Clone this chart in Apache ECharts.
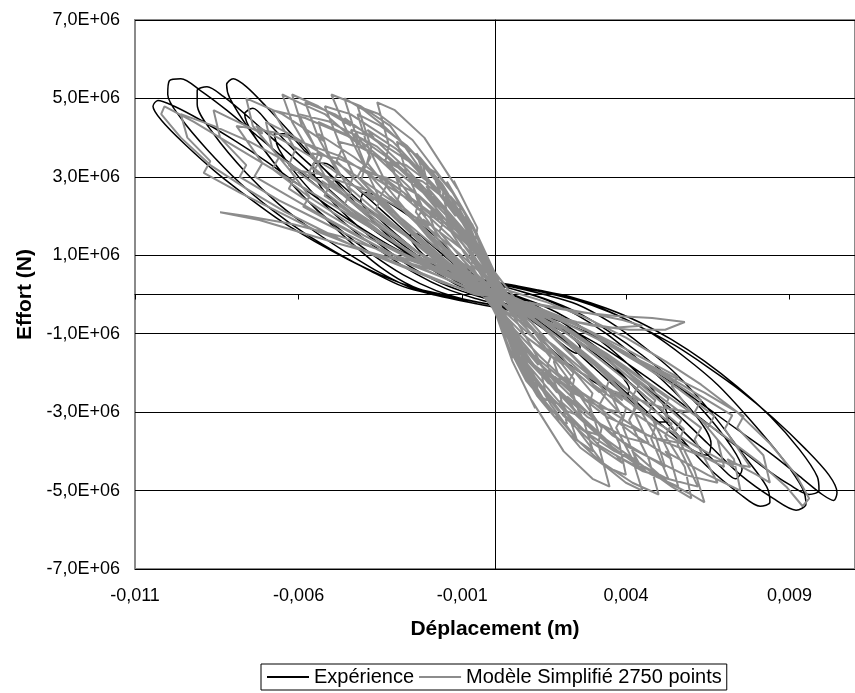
<!DOCTYPE html>
<html>
<head>
<meta charset="utf-8">
<script src="https://cdn.jsdelivr.net/npm/echarts@6/dist/echarts.min.js"></script>
<style>
html,body{margin:0;padding:0;background:#fff;}
#chart{width:855px;height:693px;}
</style>
</head>
<body>
<div id="chart"></div>
<script>
// ---- axis ticks ----
const xTicks = [-0.011, -0.006, -0.001, 0.004, 0.009];
const yTicks = [-7e6, -5e6, -3e6, -1e6, 1e6, 3e6, 5e6, 7e6];

// ---- Expérience (black) : cycles, [m, N] ----
const expCycle0 = [[0,0.1e6],[-0.5e-3,0.3e6],[-1.0e-3,0.6e6],[-1.5e-3,0.95e6],[-2.0e-3,1.3e6],[-2.4e-3,1.55e6],[-2.6e-3,1.5e6],[-2.4e-3,1.2e6],[-1.9e-3,0.8e6],[-1.4e-3,0.45e6],[-0.9e-3,0.2e6],[-0.4e-3,0],[0.1e-3,-0.15e6],[0.6e-3,-0.35e6],[1.1e-3,-0.65e6],[1.6e-3,-0.95e6],[2.1e-3,-1.3e6],[2.5e-3,-1.5e6],[2.6e-3,-1.35e6],[2.3e-3,-1.05e6],[1.8e-3,-0.7e6],[1.3e-3,-0.4e6],[0.8e-3,-0.15e6],[0.3e-3,0.05e6]];
const expCycle1 = [[-0.4e-3,0.31e6],[-1.0e-3,0.78e6],[-1.6e-3,1.3e6],[-2.2e-3,1.74e6],[-2.8e-3,2.1e6],[-3.3e-3,2.37e6],[-3.7e-3,2.55e6],[-4.0e-3,2.6e6],[-4.1e-3,2.39e6],[-3.96e-3,2.18e6],[-3.6e-3,1.77e6],[-3.0e-3,1.3e6],[-2.4e-3,0.91e6],[-1.8e-3,0.57e6],[-1.2e-3,0.26e6],[-0.6e-3,0.05e6],[0,-0.16e6],[0.4e-3,-0.31e6],[1.0e-3,-0.78e6],[1.6e-3,-1.3e6],[2.2e-3,-1.74e6],[2.8e-3,-2.1e6],[3.3e-3,-2.37e6],[3.7e-3,-2.55e6],[4.0e-3,-2.6e6],[4.1e-3,-2.39e6],[3.96e-3,-2.18e6],[3.6e-3,-1.77e6],[3.0e-3,-1.3e6],[2.4e-3,-0.91e6],[1.8e-3,-0.57e6],[1.2e-3,-0.26e6],[0.6e-3,-0.05e6],[0,0.16e6]];
const expCycle2 = [[-0.8e-3,0.45e6],[-1.6e-3,0.8e6],[-2.4e-3,1.35e6],[-3.2e-3,1.95e6],[-4.0e-3,2.55e6],[-4.7e-3,3.05e6],[-5.2e-3,3.35e6],[-5.55e-3,3.35e6],[-5.5e-3,3.0e6],[-5.0e-3,2.4e6],[-4.2e-3,1.75e6],[-3.4e-3,1.2e6],[-2.6e-3,0.72e6],[-1.8e-3,0.35e6],[-1.0e-3,0.08e6],[-0.2e-3,-0.12e6],[0.6e-3,-0.35e6],[1.4e-3,-0.72e6],[2.2e-3,-1.25e6],[3.0e-3,-1.85e6],[3.8e-3,-2.45e6],[4.5e-3,-2.95e6],[5.0e-3,-3.25e6],[5.3e-3,-3.25e6],[5.2e-3,-2.9e6],[4.7e-3,-2.3e6],[3.9e-3,-1.65e6],[3.1e-3,-1.1e6],[2.3e-3,-0.65e6],[1.5e-3,-0.3e6],[0.7e-3,-0.05e6],[-0.1e-3,0.18e6]];
const expCycle3 = [[-0.9e-3,0.4e6],[-1.9e-3,0.8e6],[-2.9e-3,1.45e6],[-3.9e-3,2.2e6],[-4.9e-3,2.95e6],[-5.8e-3,3.65e6],[-6.4e-3,4.1e6],[-6.75e-3,4.1e6],[-6.6e-3,3.7e6],[-6.0e-3,3.0e6],[-5.1e-3,2.2e6],[-4.2e-3,1.55e6],[-3.3e-3,1.0e6],[-2.4e-3,0.52e6],[-1.5e-3,0.15e6],[-0.6e-3,-0.1e6],[0.3e-3,-0.3e6],[1.2e-3,-0.65e6],[2.2e-3,-1.2e6],[3.2e-3,-1.9e6],[4.2e-3,-2.65e6],[5.2e-3,-3.4e6],[6.0e-3,-3.95e6],[6.5e-3,-4.1e6],[6.6e-3,-3.8e6],[6.1e-3,-3.05e6],[5.2e-3,-2.25e6],[4.3e-3,-1.6e6],[3.4e-3,-1.0e6],[2.5e-3,-0.52e6],[1.6e-3,-0.15e6],[0.7e-3,0.1e6],[-0.2e-3,0.3e6]];
const expCycle4 = [[-1.1e-3,0.5e6],[-2.1e-3,0.85e6],[-3.1e-3,1.45e6],[-4.1e-3,2.15e6],[-5.1e-3,2.9e6],[-6.1e-3,3.65e6],[-6.9e-3,4.35e6],[-7.4e-3,4.75e6],[-7.65e-3,4.6e6],[-7.4e-3,4.1e6],[-6.7e-3,3.3e6],[-5.8e-3,2.45e6],[-4.8e-3,1.7e6],[-3.8e-3,1.05e6],[-2.8e-3,0.5e6],[-1.8e-3,0.1e6],[-0.8e-3,-0.15e6],[0.2e-3,-0.32e6],[1.2e-3,-0.6e6],[2.2e-3,-1.0e6],[3.2e-3,-1.6e6],[4.2e-3,-2.3e6],[5.2e-3,-3.05e6],[6.2e-3,-3.85e6],[6.9e-3,-4.4e6],[7.35e-3,-4.7e6],[7.55e-3,-4.45e6],[7.2e-3,-3.85e6],[6.4e-3,-3.0e6],[5.5e-3,-2.25e6],[4.5e-3,-1.55e6],[3.5e-3,-0.95e6],[2.5e-3,-0.45e6],[1.5e-3,-0.1e6],[0.5e-3,0.15e6],[-0.5e-3,0.35e6]];
const expCycle5 = [[-1.0e-3,0.45e6],[-2.0e-3,0.75e6],[-3.0e-3,1.3e6],[-4.0e-3,2.1e6],[-5.0e-3,3.0e6],[-6.0e-3,3.9e6],[-7.0e-3,4.8e6],[-7.6e-3,5.3e6],[-8.0e-3,5.5e6],[-8.2e-3,5.35e6],[-8.1e-3,5.0e6],[-7.5e-3,4.2e6],[-6.5e-3,3.1e6],[-5.5e-3,2.2e6],[-4.5e-3,1.4e6],[-3.5e-3,0.7e6],[-2.5e-3,0.2e6],[-1.5e-3,-0.05e6],[-0.5e-3,-0.2e6],[0.5e-3,-0.35e6],[1.5e-3,-0.6e6],[2.5e-3,-1.0e6],[3.5e-3,-1.7e6],[4.5e-3,-2.6e6],[5.5e-3,-3.5e6],[6.5e-3,-4.4e6],[7.5e-3,-5.1e6],[8.1e-3,-5.4e6],[8.4e-3,-5.3e6],[8.3e-3,-4.9e6],[7.6e-3,-4.1e6],[6.6e-3,-3.0e6],[5.5e-3,-2.0e6],[4.5e-3,-1.3e6],[3.5e-3,-0.7e6],[2.5e-3,-0.25e6],[1.5e-3,0],[0.5e-3,0.2e6],[-0.5e-3,0.35e6]];
const expCycle6 = [[-1.5e-3,0.6e6],[-2.5e-3,0.95e6],[-3.5e-3,1.55e6],[-4.5e-3,2.25e6],[-5.5e-3,3.0e6],[-6.5e-3,3.75e6],[-7.5e-3,4.5e6],[-8.3e-3,5.05e6],[-8.8e-3,5.3e6],[-9.1e-3,5.2e6],[-9.1e-3,4.85e6],[-8.6e-3,4.1e6],[-7.6e-3,3.1e6],[-6.6e-3,2.3e6],[-5.5e-3,1.6e6],[-4.5e-3,1.05e6],[-3.5e-3,0.55e6],[-2.5e-3,0.15e6],[-1.5e-3,-0.05e6],[-0.5e-3,-0.2e6],[0.5e-3,-0.38e6],[1.5e-3,-0.6e6],[2.5e-3,-1.0e6],[3.5e-3,-1.6e6],[4.5e-3,-2.3e6],[5.5e-3,-3.0e6],[6.5e-3,-3.8e6],[7.5e-3,-4.6e6],[8.5e-3,-5.2e6],[9.2e-3,-5.5e6],[9.5e-3,-5.35e6],[9.4e-3,-4.95e6],[8.8e-3,-4.2e6],[7.8e-3,-3.2e6],[6.8e-3,-2.3e6],[5.8e-3,-1.6e6],[4.8e-3,-1.0e6],[3.8e-3,-0.55e6],[2.8e-3,-0.2e6],[1.8e-3,0.02e6],[0.8e-3,0.2e6],[-0.2e-3,0.35e6]];
const expCycle7 = [[-1.2e-3,0.55e6],[-2.2e-3,0.85e6],[-3.2e-3,1.35e6],[-4.2e-3,1.95e6],[-5.2e-3,2.6e6],[-6.2e-3,3.3e6],[-7.2e-3,4.0e6],[-8.2e-3,4.7e6],[-9.0e-3,5.2e6],[-9.6e-3,5.5e6],[-9.95e-3,5.45e6],[-10.0e-3,5.1e6],[-9.6e-3,4.5e6],[-8.8e-3,3.7e6],[-7.8e-3,2.85e6],[-6.8e-3,2.15e6],[-5.8e-3,1.55e6],[-4.8e-3,1.05e6],[-3.8e-3,0.6e6],[-2.8e-3,0.2e6],[-1.8e-3,-0.02e6],[-0.8e-3,-0.2e6],[0.2e-3,-0.36e6],[1.2e-3,-0.55e6],[2.2e-3,-0.85e6],[3.2e-3,-1.3e6],[4.2e-3,-1.85e6],[5.2e-3,-2.45e6],[6.2e-3,-3.1e6],[7.2e-3,-3.75e6],[8.2e-3,-4.4e6],[9.0e-3,-4.85e6],[9.6e-3,-5.1e6],[9.9e-3,-5.0e6],[9.85e-3,-4.65e6],[9.3e-3,-3.95e6],[8.4e-3,-3.1e6],[7.4e-3,-2.35e6],[6.4e-3,-1.7e6],[5.4e-3,-1.15e6],[4.4e-3,-0.7e6],[3.4e-3,-0.35e6],[2.4e-3,-0.08e6],[1.4e-3,0.1e6],[0.4e-3,0.25e6]];
const expCycle8 = [[-1.0e-3,0.5e6],[-2.0e-3,0.75e6],[-3.0e-3,1.15e6],[-4.0e-3,1.65e6],[-5.0e-3,2.2e6],[-6.0e-3,2.8e6],[-7.0e-3,3.4e6],[-8.0e-3,3.95e6],[-9.0e-3,4.45e6],[-9.8e-3,4.8e6],[-10.3e-3,4.95e6],[-10.45e-3,4.8e6],[-10.2e-3,4.45e6],[-9.5e-3,3.85e6],[-8.5e-3,3.1e6],[-7.5e-3,2.45e6],[-6.5e-3,1.85e6],[-5.5e-3,1.35e6],[-4.5e-3,0.9e6],[-3.5e-3,0.5e6],[-2.5e-3,0.18e6],[-1.5e-3,-0.02e6],[-0.5e-3,-0.2e6],[0.5e-3,-0.36e6],[1.5e-3,-0.55e6],[2.5e-3,-0.85e6],[3.5e-3,-1.25e6],[4.5e-3,-1.75e6],[5.5e-3,-2.3e6],[6.5e-3,-2.9e6],[7.5e-3,-3.5e6],[8.5e-3,-4.1e6],[9.4e-3,-4.7e6],[10.0e-3,-5.1e6],[10.35e-3,-5.25e6],[10.45e-3,-5.05e6],[10.2e-3,-4.6e6],[9.5e-3,-3.95e6],[8.5e-3,-3.15e6],[7.5e-3,-2.45e6],[6.5e-3,-1.85e6],[5.5e-3,-1.3e6],[4.5e-3,-0.85e6],[3.5e-3,-0.45e6],[2.5e-3,-0.15e6],[1.5e-3,0.05e6],[0.5e-3,0.22e6],[-0.5e-3,0.38e6]];

// ---- Modèle Simplifié 2750 points (grey) : excursions, [m, N] ----
const modUL1 = [[0.1e-3,0.1e6],[-0.4e-3,0.9e6],[-0.9e-3,1.8e6],[-0.7e-3,1.4e6],[-1.6e-3,2.7e6],[-2.4e-3,3.6e6],[-2.2e-3,3.1e6],[-3.2e-3,4.3e6],[-4.1e-3,4.8e6],[-5.0e-3,5.1e6],[-4.6e-3,4.3e6],[-4.0e-3,3.3e6],[-4.2e-3,3.0e6],[-3.2e-3,2.1e6],[-2.2e-3,1.3e6],[-1.2e-3,0.6e6],[-0.3e-3,0.1e6]];
const modLR1 = [[-0.1e-3,-0.1e6],[0.4e-3,-1.0e6],[0.9e-3,-1.9e6],[0.8e-3,-1.5e6],[1.7e-3,-2.8e6],[2.5e-3,-3.7e6],[2.3e-3,-3.2e6],[3.3e-3,-4.3e6],[4.2e-3,-4.8e6],[5.0e-3,-5.1e6],[4.7e-3,-4.2e6],[4.1e-3,-3.2e6],[4.3e-3,-2.9e6],[3.3e-3,-2.0e6],[2.3e-3,-1.2e6],[1.3e-3,-0.6e6],[0.3e-3,-0.1e6]];
const modUL2 = [[-0.3e-3,0.7e6],[-0.8e-3,1.4e6],[-1.5e-3,2.0e6],[-1.3e-3,1.7e6],[-2.4e-3,2.8e6],[-3.3e-3,3.5e6],[-4.3e-3,4.1e6],[-4.1e-3,3.8e6],[-5.2e-3,4.6e6],[-6.0e-3,4.9e6],[-6.5e-3,5.1e6],[-6.2e-3,4.4e6],[-5.5e-3,3.4e6],[-5.7e-3,3.1e6],[-4.6e-3,2.3e6],[-3.5e-3,1.6e6],[-2.3e-3,0.9e6],[-1.1e-3,0.4e6],[-0.2e-3,0]];
const modLR2 = [[0.3e-3,-0.7e6],[0.9e-3,-1.5e6],[1.6e-3,-2.2e6],[1.4e-3,-1.9e6],[2.5e-3,-3.0e6],[3.4e-3,-3.7e6],[4.4e-3,-4.3e6],[4.2e-3,-4.0e6],[5.3e-3,-4.8e6],[6.0e-3,-5.1e6],[6.4e-3,-5.3e6],[6.1e-3,-4.5e6],[5.5e-3,-3.5e6],[5.7e-3,-3.2e6],[4.6e-3,-2.4e6],[3.5e-3,-1.6e6],[2.3e-3,-0.9e6],[1.1e-3,-0.4e6],[0.2e-3,0]];
const modUL3 = [[-0.5e-3,1.2e6],[-1.1e-3,2.2e6],[-0.9e-3,1.9e6],[-1.8e-3,3.0e6],[-2.7e-3,3.8e6],[-3.5e-3,4.3e6],[-4.2e-3,4.6e6],[-3.9e-3,3.8e6],[-3.3e-3,2.8e6],[-3.5e-3,2.5e6],[-2.5e-3,1.6e6],[-1.4e-3,0.8e6],[-0.4e-3,0.2e6]];
const modLR3 = [[0.5e-3,-1.3e6],[1.1e-3,-2.3e6],[1.0e-3,-2.0e6],[1.8e-3,-3.1e6],[2.6e-3,-3.9e6],[3.4e-3,-4.4e6],[4.0e-3,-4.6e6],[3.8e-3,-3.8e6],[3.2e-3,-2.8e6],[3.4e-3,-2.5e6],[2.4e-3,-1.6e6],[1.4e-3,-0.8e6],[0.4e-3,-0.2e6]];
const modUL4 = [[-0.6e-3,0.8e6],[-1.4e-3,1.5e6],[-2.3e-3,2.2e6],[-2.1e-3,2.0e6],[-3.2e-3,2.8e6],[-4.3e-3,3.5e6],[-5.4e-3,4.1e6],[-5.2e-3,3.9e6],[-6.5e-3,4.6e6],[-7.6e-3,5.0e6],[-7.4e-3,4.3e6],[-6.6e-3,3.5e6],[-6.8e-3,3.2e6],[-5.7e-3,2.5e6],[-4.6e-3,1.9e6],[-3.4e-3,1.3e6],[-2.2e-3,0.8e6],[-1.0e-3,0.3e6],[0,-0.1e6]];
const modLR4 = [[0.6e-3,-0.9e6],[1.4e-3,-1.6e6],[2.3e-3,-2.3e6],[2.1e-3,-2.1e6],[3.2e-3,-2.9e6],[4.3e-3,-3.6e6],[5.4e-3,-4.2e6],[5.2e-3,-4.0e6],[6.5e-3,-4.6e6],[7.5e-3,-5.0e6],[7.3e-3,-4.2e6],[6.5e-3,-3.4e6],[6.7e-3,-3.1e6],[5.6e-3,-2.4e6],[4.5e-3,-1.8e6],[3.3e-3,-1.2e6],[2.1e-3,-0.7e6],[0.9e-3,-0.3e6],[0,0.1e6]];
const modUL5 = [[-0.2e-3,0.6e6],[-0.7e-3,1.5e6],[-1.3e-3,2.3e6],[-1.2e-3,2.0e6],[-2.1e-3,3.0e6],[-3.0e-3,3.7e6],[-3.9e-3,4.2e6],[-3.7e-3,4.0e6],[-4.9e-3,4.6e6],[-5.8e-3,4.9e6],[-5.4e-3,4.0e6],[-4.8e-3,3.1e6],[-5.0e-3,2.8e6],[-3.9e-3,2.0e6],[-2.8e-3,1.3e6],[-1.7e-3,0.7e6],[-0.6e-3,0.2e6]];
const modLR5 = [[0.2e-3,-0.6e6],[0.7e-3,-1.6e6],[1.3e-3,-2.4e6],[1.2e-3,-2.1e6],[2.1e-3,-3.1e6],[3.0e-3,-3.8e6],[3.9e-3,-4.3e6],[3.7e-3,-4.1e6],[4.8e-3,-4.6e6],[5.6e-3,-4.9e6],[5.3e-3,-4.0e6],[4.7e-3,-3.0e6],[4.9e-3,-2.7e6],[3.8e-3,-1.9e6],[2.7e-3,-1.2e6],[1.6e-3,-0.6e6],[0.5e-3,-0.2e6]];
const modUL6 = [[-0.4e-3,1.0e6],[-0.9e-3,2.0e6],[-0.8e-3,1.7e6],[-1.6e-3,2.8e6],[-2.3e-3,3.5e6],[-3.0e-3,3.9e6],[-2.7e-3,3.1e6],[-2.2e-3,2.2e6],[-2.4e-3,1.9e6],[-1.6e-3,1.2e6],[-0.7e-3,0.5e6],[0.1e-3,0]];
const modLR6 = [[0.4e-3,-1.1e6],[0.9e-3,-2.1e6],[0.8e-3,-1.8e6],[1.6e-3,-2.9e6],[2.3e-3,-3.6e6],[3.0e-3,-4.0e6],[2.7e-3,-3.2e6],[2.2e-3,-2.3e6],[2.4e-3,-2.0e6],[1.6e-3,-1.3e6],[0.7e-3,-0.5e6],[-0.1e-3,0]];
const modUL7 = [[-0.8e-3,0.7e6],[-1.8e-3,1.2e6],[-2.8e-3,1.9e6],[-3.9e-3,2.6e6],[-3.7e-3,2.4e6],[-5.0e-3,3.2e6],[-6.2e-3,3.8e6],[-7.3e-3,4.3e6],[-7.1e-3,4.1e6],[-8.1e-3,4.5e6],[-8.6e-3,4.7e6],[-8.4e-3,4.0e6],[-7.6e-3,3.3e6],[-7.8e-3,3.0e6],[-6.6e-3,2.4e6],[-5.4e-3,1.9e6],[-4.2e-3,1.4e6],[-3.0e-3,0.9e6],[-1.8e-3,0.5e6],[-0.6e-3,0.1e6]];
const modLR7 = [[0.8e-3,-0.7e6],[1.8e-3,-1.3e6],[2.8e-3,-2.0e6],[3.9e-3,-2.7e6],[3.7e-3,-2.5e6],[5.0e-3,-3.3e6],[6.2e-3,-3.9e6],[7.3e-3,-4.4e6],[7.1e-3,-4.2e6],[8.0e-3,-4.6e6],[8.4e-3,-4.8e6],[8.2e-3,-4.1e6],[7.4e-3,-3.4e6],[7.6e-3,-3.1e6],[6.4e-3,-2.5e6],[5.2e-3,-2.0e6],[4.0e-3,-1.5e6],[2.8e-3,-1.0e6],[1.6e-3,-0.5e6],[0.5e-3,-0.1e6]];
const modUL8 = [[-0.3e-3,0.5e6],[-1.0e-3,1.3e6],[-1.8e-3,2.1e6],[-1.6e-3,1.9e6],[-2.7e-3,2.8e6],[-3.6e-3,3.5e6],[-4.6e-3,4.1e6],[-5.4e-3,4.4e6],[-5.1e-3,3.6e6],[-4.4e-3,2.6e6],[-4.6e-3,2.3e6],[-3.5e-3,1.7e6],[-2.4e-3,1.1e6],[-1.3e-3,0.6e6],[-0.3e-3,0.1e6]];
const modLR8 = [[0.3e-3,-0.6e6],[1.0e-3,-1.4e6],[1.8e-3,-2.2e6],[1.6e-3,-2.0e6],[2.7e-3,-2.9e6],[3.6e-3,-3.6e6],[4.6e-3,-4.1e6],[5.2e-3,-4.4e6],[4.9e-3,-3.6e6],[4.2e-3,-2.6e6],[4.4e-3,-2.3e6],[3.3e-3,-1.6e6],[2.2e-3,-1.0e6],[1.2e-3,-0.5e6],[0.2e-3,-0.1e6]];
const modUL9 = [[-1.0e-3,0.6e6],[-2.0e-3,1.1e6],[-3.1e-3,1.7e6],[-4.2e-3,2.3e6],[-5.3e-3,2.9e6],[-5.1e-3,2.7e6],[-6.4e-3,3.4e6],[-7.5e-3,3.9e6],[-8.6e-3,4.3e6],[-9.6e-3,4.6e6],[-9.4e-3,4.0e6],[-8.7e-3,3.4e6],[-8.9e-3,3.1e6],[-7.8e-3,2.6e6],[-6.6e-3,2.1e6],[-5.4e-3,1.6e6],[-4.2e-3,1.2e6],[-3.0e-3,0.8e6],[-1.8e-3,0.4e6],[-0.6e-3,0]];
const modLR9 = [[0.5e-3,-0.1e6],[1.5e-3,-0.3e6],[2.6e-3,-0.45e6],[3.7e-3,-0.55e6],[4.8e-3,-0.6e6],[5.8e-3,-0.7e6],[5.2e-3,-0.9e6],[4.1e-3,-0.9e6],[3.0e-3,-0.8e6],[1.9e-3,-0.6e6],[0.8e-3,-0.3e6]];
const modUL10 = [[-0.5e-3,1.1e6],[-1.0e-3,2.0e6],[-1.7e-3,2.9e6],[-1.5e-3,2.6e6],[-2.5e-3,3.6e6],[-3.4e-3,4.3e6],[-4.0e-3,4.7e6],[-4.6e-3,5.0e6],[-4.3e-3,4.2e6],[-3.8e-3,3.5e6],[-4.0e-3,3.2e6],[-3.0e-3,2.3e6],[-2.0e-3,1.5e6],[-1.0e-3,0.8e6],[-0.1e-3,0.2e6]];
const modLR10 = [[0.5e-3,-1.2e6],[1.0e-3,-2.1e6],[1.7e-3,-3.0e6],[1.5e-3,-2.7e6],[2.5e-3,-3.7e6],[3.4e-3,-4.4e6],[4.0e-3,-4.8e6],[4.5e-3,-5.0e6],[4.2e-3,-4.2e6],[3.7e-3,-3.4e6],[3.9e-3,-3.1e6],[2.9e-3,-2.2e6],[1.9e-3,-1.4e6],[0.9e-3,-0.7e6],[0,-0.1e6]];
const modUL11 = [[-0.5e-3,0.6e6],[-1.3e-3,1.2e6],[-2.2e-3,1.8e6],[-3.2e-3,2.5e6],[-3.0e-3,2.3e6],[-4.2e-3,3.0e6],[-5.3e-3,3.6e6],[-6.3e-3,4.1e6],[-7.0e-3,4.4e6],[-6.8e-3,3.7e6],[-6.1e-3,3.0e6],[-6.3e-3,2.7e6],[-5.2e-3,2.1e6],[-4.0e-3,1.5e6],[-2.8e-3,1.0e6],[-1.6e-3,0.5e6],[-0.4e-3,0.1e6]];
const modLR11 = [[0.5e-3,-0.6e6],[1.3e-3,-1.2e6],[2.2e-3,-1.8e6],[3.2e-3,-2.5e6],[3.0e-3,-2.3e6],[4.2e-3,-3.0e6],[5.3e-3,-3.6e6],[6.3e-3,-4.1e6],[7.0e-3,-4.4e6],[6.8e-3,-3.7e6],[6.1e-3,-3.0e6],[6.3e-3,-2.7e6],[5.2e-3,-2.1e6],[4.0e-3,-1.5e6],[2.8e-3,-1.0e6],[1.6e-3,-0.5e6],[0.4e-3,-0.1e6]];
const modUL12 = [[-0.3e-3,0.9e6],[-0.7e-3,1.8e6],[-0.6e-3,1.6e6],[-1.3e-3,2.6e6],[-1.8e-3,3.1e6],[-2.2e-3,3.3e6],[-2.0e-3,2.6e6],[-1.6e-3,1.8e6],[-1.7e-3,1.6e6],[-1.0e-3,0.9e6],[-0.3e-3,0.3e6]];
const modLR12 = [[0.3e-3,-0.9e6],[0.7e-3,-1.8e6],[0.6e-3,-1.6e6],[1.3e-3,-2.6e6],[1.8e-3,-3.1e6],[2.2e-3,-3.3e6],[2.0e-3,-2.6e6],[1.6e-3,-1.8e6],[1.7e-3,-1.6e6],[1.0e-3,-0.9e6],[0.3e-3,-0.3e6]];
const modUL13 = [[-0.4e-3,0.8e6],[-1.1e-3,1.7e6],[-1.9e-3,2.5e6],[-1.7e-3,2.3e6],[-2.7e-3,3.2e6],[-3.6e-3,3.9e6],[-4.6e-3,4.5e6],[-4.4e-3,4.3e6],[-5.4e-3,4.8e6],[-6.2e-3,5.1e6],[-5.9e-3,4.3e6],[-5.3e-3,3.5e6],[-5.5e-3,3.2e6],[-4.4e-3,2.5e6],[-3.2e-3,1.8e6],[-2.1e-3,1.1e6],[-1.0e-3,0.5e6],[0,0.1e6]];
const modLR13 = [[0.4e-3,-0.8e6],[1.1e-3,-1.7e6],[1.9e-3,-2.5e6],[1.7e-3,-2.3e6],[2.7e-3,-3.2e6],[3.6e-3,-3.9e6],[4.6e-3,-4.5e6],[4.4e-3,-4.3e6],[5.4e-3,-4.9e6],[6.0e-3,-5.2e6],[5.8e-3,-4.4e6],[5.2e-3,-3.6e6],[5.4e-3,-3.3e6],[4.3e-3,-2.6e6],[3.2e-3,-1.9e6],[2.1e-3,-1.2e6],[1.0e-3,-0.5e6],[0,0]];
const modUL14 = [[-1.0e-3,0.5e6],[-2.2e-3,0.9e6],[-3.4e-3,1.5e6],[-4.6e-3,2.1e6],[-5.8e-3,2.7e6],[-7.0e-3,3.3e6],[-8.2e-3,3.9e6],[-9.2e-3,4.4e6],[-10.1e-3,4.8e6],[-10.2e-3,4.6e6],[-9.6e-3,4.0e6],[-8.7e-3,3.3e6],[-7.6e-3,2.7e6],[-6.4e-3,2.1e6],[-5.2e-3,1.6e6],[-4.0e-3,1.1e6],[-2.8e-3,0.7e6],[-1.6e-3,0.3e6],[-0.4e-3,0]];
const modLR14 = [[1.0e-3,-0.5e6],[2.2e-3,-0.9e6],[3.4e-3,-1.5e6],[4.6e-3,-2.2e6],[5.8e-3,-2.9e6],[7.0e-3,-3.6e6],[8.1e-3,-4.3e6],[8.9e-3,-4.9e6],[9.4e-3,-5.4e6],[9.6e-3,-5.2e6],[9.2e-3,-4.6e6],[8.4e-3,-3.8e6],[7.4e-3,-3.0e6],[6.3e-3,-2.3e6],[5.2e-3,-1.7e6],[4.0e-3,-1.1e6],[2.8e-3,-0.6e6],[1.6e-3,-0.2e6],[0.4e-3,0.1e6]];
const modUL15 = [[-1.0e-3,0.4e6],[-2.2e-3,0.7e6],[-3.5e-3,1.0e6],[-4.8e-3,1.3e6],[-6.0e-3,1.6e6],[-7.2e-3,1.9e6],[-8.4e-3,2.1e6],[-7.6e-3,2.0e6],[-6.2e-3,1.8e6],[-4.8e-3,1.5e6],[-3.4e-3,1.1e6],[-2.0e-3,0.7e6],[-0.8e-3,0.3e6]];
// denser core of the model
const modUL16 = [[-0.54e-3,1.7e6],[-1.26e-3,2.9e6],[-1.15e-3,2.7e6],[-2.16e-3,4.0e6],[-3.06e-3,4.7e6],[-3.6e-3,4.9e6],[-3.24e-3,3.8e6],[-3.35e-3,3.4e6],[-2.34e-3,2.2e6],[-1.26e-3,1.0e6],[-0.18e-3,0]];
const modLR16 = [[0.53e-3,-1.7e6],[1.23e-3,-2.9e6],[1.12e-3,-2.7e6],[2.1e-3,-4.0e6],[2.98e-3,-4.7e6],[3.5e-3,-4.9e6],[3.15e-3,-3.8e6],[3.26e-3,-3.4e6],[2.28e-3,-2.2e6],[1.23e-3,-1.0e6],[0.18e-3,0]];
const modUL17 = [[-0.66e-3,1.5e6],[-1.54e-3,2.5e6],[-1.41e-3,2.3e6],[-2.64e-3,3.4e6],[-3.74e-3,4.0e6],[-4.4e-3,4.2e6],[-3.96e-3,3.3e6],[-4.09e-3,2.9e6],[-2.86e-3,1.9e6],[-1.54e-3,0.84e6],[-0.22e-3,0]];
const modLR17 = [[0.65e-3,-1.5e6],[1.5e-3,-2.5e6],[1.38e-3,-2.3e6],[2.58e-3,-3.4e6],[3.66e-3,-4.0e6],[4.3e-3,-4.2e6],[3.87e-3,-3.3e6],[4.0e-3,-2.9e6],[2.8e-3,-1.9e6],[1.5e-3,-0.84e6],[0.22e-3,0]];
const modUL18 = [[-0.78e-3,1.7e6],[-1.82e-3,2.9e6],[-1.66e-3,2.6e6],[-3.12e-3,3.9e6],[-4.42e-3,4.6e6],[-5.2e-3,4.8e6],[-4.68e-3,3.7e6],[-4.84e-3,3.4e6],[-3.38e-3,2.2e6],[-1.82e-3,0.96e6],[-0.26e-3,0]];
const modLR18 = [[0.8e-3,-1.65e6],[1.86e-3,-2.8e6],[1.7e-3,-2.6e6],[3.18e-3,-3.85e6],[4.5e-3,-4.5e6],[5.3e-3,-4.7e6],[4.77e-3,-3.67e6],[4.93e-3,-3.3e6],[3.45e-3,-2.1e6],[1.86e-3,-0.94e6],[0.27e-3,0]];
const modUL19 = [[-1.0e-3,1.6e6],[-2.4e-3,2.8e6],[-2.2e-3,2.6e6],[-4.1e-3,3.9e6],[-5.8e-3,4.5e6],[-6.8e-3,4.7e6],[-6.1e-3,3.7e6],[-6.3e-3,3.3e6],[-4.4e-3,2.1e6],[-2.4e-3,0.94e6],[-0.34e-3,0]];
const modLR19 = [[1.0e-3,-1.7e6],[2.4e-3,-2.9e6],[2.2e-3,-2.6e6],[4.1e-3,-3.9e6],[5.8e-3,-4.6e6],[6.8e-3,-4.8e6],[6.1e-3,-3.7e6],[6.3e-3,-3.4e6],[4.4e-3,-2.2e6],[2.4e-3,-0.96e6],[0.34e-3,0]];
const modUL20 = [[-0.39e-3,1.05e6],[-0.91e-3,1.8e6],[-0.83e-3,1.65e6],[-1.56e-3,2.46e6],[-2.21e-3,2.88e6],[-2.6e-3,3.0e6],[-2.34e-3,2.34e6],[-2.42e-3,2.1e6],[-1.69e-3,1.35e6],[-0.91e-3,0.6e6],[-0.13e-3,0]];
const modLR20 = [[0.39e-3,-1.1e6],[0.91e-3,-1.86e6],[0.83e-3,-1.7e6],[1.56e-3,-2.54e6],[2.21e-3,-2.98e6],[2.6e-3,-3.1e6],[2.34e-3,-2.42e6],[2.42e-3,-2.17e6],[1.69e-3,-1.4e6],[0.91e-3,-0.62e6],[0.13e-3,0]];
const modUL21 = [[-0.48e-3,1.2e6],[-1.12e-3,2.0e6],[-1.02e-3,1.9e6],[-1.92e-3,2.8e6],[-2.72e-3,3.3e6],[-3.2e-3,3.4e6],[-2.88e-3,2.65e6],[-2.98e-3,2.4e6],[-2.08e-3,1.5e6],[-1.12e-3,0.68e6],[-0.16e-3,0]];
const modLR21 = [[0.48e-3,-1.26e6],[1.12e-3,-2.16e6],[1.02e-3,-1.98e6],[1.92e-3,-2.95e6],[2.72e-3,-3.46e6],[3.2e-3,-3.6e6],[2.88e-3,-2.8e6],[2.98e-3,-2.52e6],[2.08e-3,-1.62e6],[1.12e-3,-0.72e6],[0.16e-3,0]];
const modUL22 = [[-0.24e-3,0.9e6],[-0.56e-3,1.56e6],[-0.51e-3,1.43e6],[-0.96e-3,2.13e6],[-1.36e-3,2.5e6],[-1.6e-3,2.6e6],[-1.44e-3,2.0e6],[-1.49e-3,1.8e6],[-1.04e-3,1.2e6],[-0.56e-3,0.52e6],[-0.08e-3,0]];
const modLR22 = [[0.24e-3,-0.95e6],[0.56e-3,-1.62e6],[0.51e-3,-1.49e6],[0.96e-3,-2.21e6],[1.36e-3,-2.59e6],[1.6e-3,-2.7e6],[1.44e-3,-2.1e6],[1.49e-3,-1.89e6],[1.04e-3,-1.22e6],[0.56e-3,-0.54e6],[0.08e-3,0]];
const modUL23 = [[-0.84e-3,1.26e6],[-1.96e-3,2.16e6],[-1.79e-3,1.98e6],[-3.36e-3,2.95e6],[-4.76e-3,3.46e6],[-5.6e-3,3.6e6],[-5.04e-3,2.8e6],[-5.21e-3,2.52e6],[-3.64e-3,1.62e6],[-1.96e-3,0.72e6],[-0.28e-3,0]];
const modLR23 = [[0.86e-3,-1.33e6],[2.0e-3,-2.28e6],[1.82e-3,-2.09e6],[3.42e-3,-3.12e6],[4.85e-3,-3.65e6],[5.7e-3,-3.8e6],[5.13e-3,-2.96e6],[5.3e-3,-2.66e6],[3.7e-3,-1.71e6],[2.0e-3,-0.76e6],[0.29e-3,0]];
const modUL24 = [[-0.9e-3,1.6e6],[-2.1e-3,2.76e6],[-1.92e-3,2.53e6],[-3.6e-3,3.77e6],[-5.1e-3,4.42e6],[-6.0e-3,4.6e6],[-5.4e-3,3.59e6],[-5.58e-3,3.22e6],[-3.9e-3,2.07e6],[-2.1e-3,0.92e6],[-0.3e-3,0]];
const modLR24 = [[0.93e-3,-1.72e6],[2.17e-3,-2.94e6],[1.98e-3,-2.7e6],[3.72e-3,-4.02e6],[5.27e-3,-4.7e6],[6.2e-3,-4.9e6],[5.58e-3,-3.82e6],[5.77e-3,-3.43e6],[4.03e-3,-2.2e6],[2.17e-3,-0.98e6],[0.31e-3,0]];
const modUL25 = [[-1.19e-3,1.5e6],[-2.77e-3,2.58e6],[-2.53e-3,2.37e6],[-4.74e-3,3.53e6],[-6.72e-3,4.13e6],[-7.9e-3,4.3e6],[-7.11e-3,3.35e6],[-7.35e-3,3.01e6],[-5.14e-3,1.94e6],[-2.77e-3,0.86e6],[-0.4e-3,0]];
const modLR25 = [[1.17e-3,-1.54e6],[2.73e-3,-2.64e6],[2.5e-3,-2.42e6],[4.68e-3,-3.6e6],[6.63e-3,-4.22e6],[7.8e-3,-4.4e6],[7.02e-3,-3.43e6],[7.25e-3,-3.08e6],[5.07e-3,-1.98e6],[2.73e-3,-0.88e6],[0.39e-3,0]];
const modUL26 = [[-0.72e-3,1.37e6],[-1.68e-3,2.34e6],[-1.54e-3,2.15e6],[-2.88e-3,3.2e6],[-4.08e-3,3.74e6],[-4.8e-3,3.9e6],[-4.32e-3,3.04e6],[-4.46e-3,2.73e6],[-3.12e-3,1.76e6],[-1.68e-3,0.78e6],[-0.24e-3,0]];
const modLR26 = [[0.7e-3,-1.33e6],[1.65e-3,-2.28e6],[1.5e-3,-2.09e6],[2.82e-3,-3.12e6],[4.0e-3,-3.65e6],[4.7e-3,-3.8e6],[4.23e-3,-2.96e6],[4.37e-3,-2.66e6],[3.06e-3,-1.71e6],[1.65e-3,-0.76e6],[0.24e-3,0]];
const modUL27 = [[-0.59e-3,1.09e6],[-1.37e-3,1.86e6],[-1.25e-3,1.71e6],[-2.34e-3,2.54e6],[-3.32e-3,2.98e6],[-3.9e-3,3.1e6],[-3.51e-3,2.42e6],[-3.63e-3,2.17e6],[-2.54e-3,1.4e6],[-1.37e-3,0.62e6],[-0.2e-3,0]];
const modLR27 = [[0.57e-3,-1.05e6],[1.33e-3,-1.8e6],[1.22e-3,-1.65e6],[2.28e-3,-2.46e6],[3.23e-3,-2.88e6],[3.8e-3,-3.0e6],[3.42e-3,-2.34e6],[3.53e-3,-2.1e6],[2.47e-3,-1.35e6],[1.33e-3,-0.6e6],[0.19e-3,0]];
const modUL28 = [[-0.3e-3,0.7e6],[-0.7e-3,1.2e6],[-0.64e-3,1.1e6],[-1.2e-3,1.64e6],[-1.7e-3,1.92e6],[-2.0e-3,2.0e6],[-1.8e-3,1.56e6],[-1.86e-3,1.4e6],[-1.3e-3,0.9e6],[-0.7e-3,0.4e6],[-0.1e-3,0]];
const modLR28 = [[0.3e-3,-0.77e6],[0.7e-3,-1.32e6],[0.64e-3,-1.21e6],[1.2e-3,-1.8e6],[1.7e-3,-2.11e6],[2.0e-3,-2.2e6],[1.8e-3,-1.72e6],[1.86e-3,-1.54e6],[1.3e-3,-0.99e6],[0.7e-3,-0.44e6],[0.1e-3,0]];
const modUL29 = [[-0.95e-3,1.12e6],[-2.2e-3,1.92e6],[-2.0e-3,1.76e6],[-3.78e-3,2.62e6],[-5.36e-3,3.07e6],[-6.3e-3,3.2e6],[-5.67e-3,2.5e6],[-5.86e-3,2.24e6],[-4.1e-3,1.44e6],[-2.2e-3,0.64e6],[-0.32e-3,0]];
const modLR29 = [[0.9e-3,-1.05e6],[2.1e-3,-1.8e6],[1.92e-3,-1.65e6],[3.6e-3,-2.46e6],[5.1e-3,-2.88e6],[6.0e-3,-3.0e6],[5.4e-3,-2.34e6],[5.58e-3,-2.1e6],[3.9e-3,-1.35e6],[2.1e-3,-0.6e6],[0.3e-3,0]];
const modUL30 = [[-0.63e-3,1.68e6],[-1.47e-3,2.88e6],[-1.34e-3,2.64e6],[-2.52e-3,3.94e6],[-3.57e-3,4.61e6],[-4.2e-3,4.8e6],[-3.78e-3,3.74e6],[-3.91e-3,3.36e6],[-2.73e-3,2.16e6],[-1.47e-3,0.96e6],[-0.21e-3,0]];
const modLR30 = [[1.0e-3,-0.2e6],[2.0e-3,-0.35e6],[3.0e-3,-0.5e6],[3.9e-3,-0.65e6],[4.5e-3,-0.8e6],[3.6e-3,-0.85e6],[2.5e-3,-0.7e6],[1.4e-3,-0.45e6],[0.4e-3,-0.1e6]];

const expData = [].concat(expCycle0, expCycle1, expCycle2, expCycle3, expCycle4, expCycle5, expCycle6, expCycle7, expCycle8);
const modData = [].concat(
  modUL1, modLR1, modUL2, modLR2, modUL3, modLR3, modUL4, modLR4, modUL5, modLR5,
  modUL6, modLR6, modUL7, modLR7, modUL8, modLR8, modUL9, modLR9, modUL10, modLR10,
  modUL11, modLR11, modUL12, modLR12, modUL13, modLR13, modUL14, modLR14, modUL15,
  modUL16, modLR16, modUL17, modLR17, modUL18, modLR18, modUL19, modLR19, modUL20, modLR20,
  modUL21, modLR21, modUL22, modLR22, modUL23, modLR23, modUL24, modLR24, modUL25, modLR25,
  modUL26, modLR26, modUL27, modLR27, modUL28, modLR28, modUL29, modLR29, modUL30, modLR30);

const FONT = '"Liberation Sans", Arial, sans-serif';
const fmtX = v => v.toFixed(3).replace('.', ',');
const fmtY = v => { const m = v / 1e6; return (m < 0 ? '-' : '') + Math.abs(m).toFixed(1).replace('.', ',') + 'E+06'; };

const chart = echarts.init(document.getElementById('chart'), null, {renderer: 'canvas'});
chart.setOption({
  animation: false,
  backgroundColor: '#fff',
  textStyle: {fontFamily: FONT},
  grid: {left: 135, top: 20, width: 728, height: 549, show: true, borderColor: '#8a8a8a', borderWidth: 2, backgroundColor: 'transparent'},
  xAxis: [{
    type: 'value', min: -0.011, max: 0.011, interval: 0.005, position: 'bottom',
    name: 'Déplacement (m)', nameLocation: 'middle', nameGap: 50,
    nameTextStyle: {fontFamily: FONT, fontWeight: 'bold', fontSize: 21, color: '#000'},
    axisLine: {show: false, onZero: false},
    axisTick: {show: false, customValues: xTicks},
    axisLabel: {customValues: xTicks, formatter: fmtX, fontFamily: FONT, fontSize: 18, color: '#000', margin: 18},
    splitLine: {show: false}
  }, {
    type: 'value', min: -0.011, max: 0.011, position: 'bottom',
    axisLine: {show: true, onZero: true, onZeroAxisIndex: 0, lineStyle: {color: '#000', width: 1}},
    axisTick: {show: true, customValues: xTicks, length: 5, lineStyle: {color: '#000'}},
    axisLabel: {show: false},
    splitLine: {show: false}
  }],
  yAxis: [{
    type: 'value', min: -7e6, max: 7e6, interval: 2e6, position: 'left',
    name: 'Effort (N)', nameLocation: 'middle', nameGap: 98,
    nameTextStyle: {fontFamily: FONT, fontWeight: 'bold', fontSize: 21, color: '#000'},
    axisLine: {show: false, onZero: false},
    axisTick: {show: false, customValues: yTicks},
    axisLabel: {customValues: yTicks, formatter: fmtY, fontFamily: FONT, fontSize: 18, color: '#000', margin: 15},
    splitLine: {show: true, lineStyle: {color: '#000', width: 1}}
  }, {
    type: 'value', min: -7e6, max: 7e6, position: 'left',
    axisLine: {show: true, onZero: true, onZeroAxisIndex: 0, lineStyle: {color: '#000', width: 1}},
    axisTick: {show: true, customValues: yTicks, length: 5, lineStyle: {color: '#000'}},
    axisLabel: {show: false},
    splitLine: {show: false}
  }],
  legend: {
    left: 261, top: 664, orient: 'horizontal',
    padding: [3, 5, 3, 6], itemGap: 5, itemWidth: 42, itemHeight: 2, icon: 'rect',
    borderColor: '#000', borderWidth: 1, borderRadius: 0,
    textStyle: {fontFamily: FONT, fontSize: 20, color: '#000'},
    data: ['Expérience', 'Modèle Simplifié 2750 points']
  },
  series: [{
    name: 'Expérience', type: 'line', xAxisIndex: 0, yAxisIndex: 0,
    data: expData, symbol: 'none', showSymbol: false, smooth: 0.3,
    lineStyle: {color: '#000', width: 1.5}, itemStyle: {color: '#000'}
  }, {
    name: 'Modèle Simplifié 2750 points', type: 'line', xAxisIndex: 0, yAxisIndex: 0,
    data: modData, symbol: 'none', showSymbol: false, smooth: false,
    lineStyle: {color: '#8c8c8c', width: 2}, itemStyle: {color: '#8c8c8c'}
  }]
});
</script>
</body>
</html>
